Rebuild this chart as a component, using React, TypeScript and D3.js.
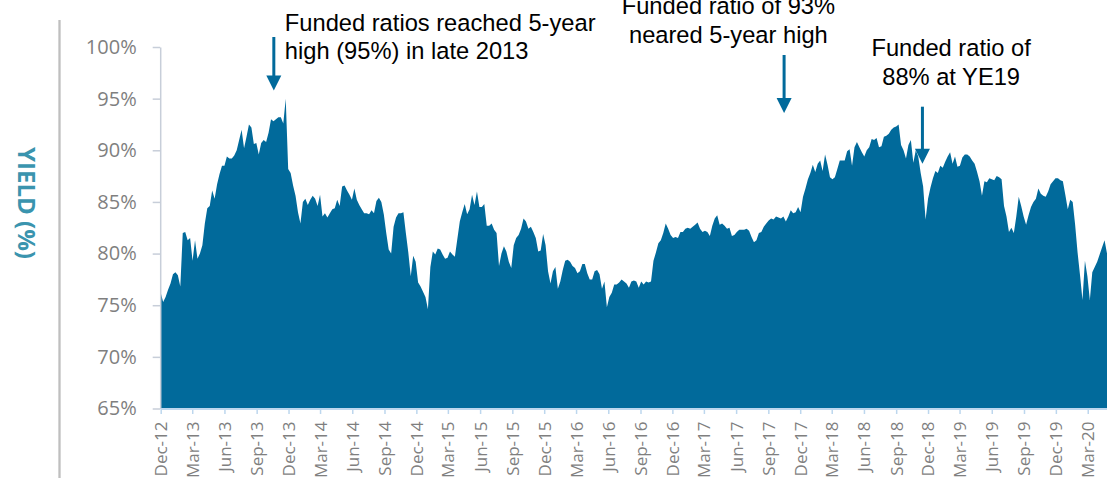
import React, { useEffect, useRef } from 'react';
import * as d3 from 'd3';

// weekly readings, the first one sits on the Dec-12 tick
const seriesStart = '2012-12-01';
const seriesEnd = '2020-04-25';
const stepDays = 7;

const fundedRatio = [
  76.2, 75.3, 75.8, 76.5, 77.1, 78.0, 78.2, 77.9, 76.8, 82.0,
  82.1, 81.3, 81.5, 79.3, 81.3, 79.5, 80.0, 80.8, 82.9, 84.4,
  84.6, 86.1, 85.3, 86.7, 87.7, 88.5, 88.5, 89.4, 89.2, 89.2,
  89.5, 90.0, 91.0, 92.0, 90.2, 91.3, 92.5, 92.2, 90.6, 90.7,
  89.6, 90.7, 91.0, 90.8, 91.7, 93.0, 92.8, 93.0, 93.2, 93.2,
  92.6, 95.0, 88.2, 87.8, 86.6, 85.6, 84.0, 82.9, 85.0, 85.3,
  84.7, 85.2, 85.6, 85.3, 84.6, 85.7, 83.6, 83.9, 83.5, 83.9,
  84.3, 84.4, 85.2, 84.6, 86.5, 86.6, 86.1, 85.7,
  85.2, 86.3, 85.2, 84.7, 84.3, 83.9, 83.9, 83.8, 84.2, 83.9,
  85.1, 85.4, 85.0, 83.8, 82.0, 80.4, 80.0, 82.6, 83.5, 83.9,
  83.9, 84.0, 82.0, 80.1, 77.8, 79.8, 79.2, 77.2, 76.8, 76.3,
  75.8, 74.6, 78.7, 80.2, 79.9, 80.5, 80.4, 79.9, 79.5, 79.6,
  80.2, 79.9, 79.7, 81.4, 83.1, 84.0, 84.8, 83.8, 84.3, 85.7,
  84.7, 86.0, 84.5, 84.5, 84.8, 82.7, 82.7, 82.9, 82.3, 82.0,
  78.8, 80.0, 80.7, 80.2, 79.2, 78.6, 80.8, 81.5, 81.8, 82.4,
  83.4, 83.1, 82.4, 82.6, 82.1, 81.5, 80.2,
  80.3, 81.9, 80.8, 78.3, 77.1, 78.3, 78.7, 76.6, 77.3, 78.4,
  79.3, 79.4, 79.2, 78.8, 78.6, 78.1, 78.3, 79.0, 79.0, 78.1,
  77.5, 77.5, 78.3, 78.4, 78.0, 76.6, 77.3, 74.8, 75.8, 76.2,
  77.0, 77.0, 77.2, 77.5, 77.3, 77.1, 76.7, 77.3, 77.4, 77.3,
  76.7, 77.3, 77.0, 77.3, 77.2, 77.3, 79.3, 80.1, 81.0, 81.3,
  82.0, 82.9, 82.4, 81.8, 81.5, 81.6, 81.5, 82.1, 82.1, 82.4,
  82.5, 82.4, 82.6, 82.8, 83.0, 82.4, 82.1, 82.2, 82.1, 81.7,
  82.7, 83.4, 83.7, 82.8, 82.9, 82.7, 82.4, 82.5,
  81.7, 81.8, 82.1, 82.3, 82.3, 82.3, 82.4, 82.2, 81.6, 81.1,
  81.3, 82.0, 82.1, 82.6, 82.9, 83.2, 83.4, 83.3, 83.6, 83.5,
  83.4, 83.6, 83.1, 83.6, 84.2, 83.9, 84.0, 84.5, 84.0, 85.5,
  86.3, 87.2, 87.8, 88.6, 87.9, 88.7, 89.0, 88.0, 89.6, 88.6,
  87.4, 87.2, 87.4, 88.2, 89.0, 89.0, 89.0, 89.9, 90.1, 88.5,
  90.3, 90.8, 90.3, 89.8, 89.4, 90.0, 90.3, 91.1, 91.0, 91.2,
  90.3, 90.4, 91.3, 91.4, 91.6, 92.0, 92.2, 92.3, 92.5, 90.5,
  90.0, 89.2, 90.5, 91.0, 88.8, 90.0, 89.4,
  87.8, 86.5, 83.3, 85.3, 86.4, 87.3, 88.0, 87.8, 88.5, 88.3,
  88.9, 89.4, 89.8, 88.7, 89.4, 88.4, 88.5, 89.3, 89.6, 89.6,
  89.4, 89.0, 88.7, 87.9, 87.0, 85.6, 87.0, 86.9, 87.3, 87.2,
  87.1, 87.5, 87.4, 87.2, 84.6, 83.6, 82.1, 82.5, 82.0, 83.6,
  85.5, 84.6, 83.6, 82.8, 83.7, 84.5, 85.0, 85.3, 86.3, 85.8,
  85.6, 85.5, 86.0, 86.7, 87.0, 87.3, 87.3, 87.1, 87.0, 85.7,
  84.3, 85.2, 85.0, 82.8, 80.1, 77.9, 75.5, 79.3, 77.8, 75.5,
  78.2, 78.7, 79.2, 79.9, 80.6, 81.3, 80.0,
];

const yTicks = [65, 70, 75, 80, 85, 90, 95, 100];
const xTickLabels = [
  'Dec-12', 'Mar-13', 'Jun-13', 'Sep-13', 'Dec-13', 'Mar-14', 'Jun-14', 'Sep-14',
  'Dec-14', 'Mar-15', 'Jun-15', 'Sep-15', 'Dec-15', 'Mar-16', 'Jun-16', 'Sep-16',
  'Dec-16', 'Mar-17', 'Jun-17', 'Sep-17', 'Dec-17', 'Mar-18', 'Jun-18', 'Sep-18',
  'Dec-18', 'Mar-19', 'Jun-19', 'Sep-19', 'Dec-19', 'Mar-20',
];
const yTitle = 'YIELD (%)';

const noteText = [
  ['Funded ratios reached 5-year', 'high (95%) in late 2013'],
  ['Funded ratio of 93%', 'neared 5-year high'],
  ['Funded ratio of', '88% at YE19'],
];
const noteDates = ['2013-10-20', '2017-10-16', '2018-11-15'];
const noteValues = [95.8, 93.6, 88.7];

const App = () => {
  const svgRef = useRef<SVGSVGElement>(null);
  const width = 1107;
  const height = 478;
  const fill = '#016a9b';

  useEffect(() => {
    const svg = d3.select(svgRef.current);
    svg.selectAll('*').remove();

    const parseDay = d3.timeParse('%Y-%m-%d');
    const parseTick = d3.timeParse('%b-%y');
    const start = parseDay(seriesStart) as Date;

    const x = d3.scaleTime().domain([start, parseDay(seriesEnd) as Date]).range([160.7, 1107]);
    const y = d3.scaleLinear().domain([65, 100]).range([408.5, 47]);

    const points = fundedRatio.map((v, i) => ({ date: d3.timeDay.offset(start, i * stepDays), value: v }));

    // left divider
    svg.append('line')
      .attr('x1', 59.5).attr('x2', 59.5)
      .attr('y1', 20).attr('y2', height)
      .attr('stroke', '#bfbfbf')
      .attr('stroke-width', 2.3);

    svg.append('text')
      .attr('transform', 'translate(26,203) rotate(90)')
      .attr('text-anchor', 'middle')
      .attr('dy', '0.35em')
      .attr('fill', '#3a94ae')
      .style('font', 'bold 24px "Open Sans", sans-serif')
      .text(yTitle);

    const area = d3.area<{ date: Date; value: number }>()
      .x(d => x(d.date))
      .y0(y(65))
      .y1(d => y(d.value));

    svg.append('path')
      .datum(points)
      .attr('fill', fill)
      .attr('d', area);

    const gy = svg.append('g')
      .attr('transform', 'translate(160.2,0)')
      .call(d3.axisLeft(y).tickValues(yTicks).tickSize(7.5).tickSizeOuter(0).tickPadding(16).tickFormat(d => `${d}%`));
    gy.select('.domain').attr('stroke', '#c7ced9').attr('stroke-width', 1.5);
    gy.selectAll('.tick line').attr('stroke', '#c7ced9').attr('stroke-width', 1.5);
    gy.selectAll('.tick text')
      .attr('fill', '#7f7f7f')
      .style('font', '20px "Open Sans", sans-serif');

    const tickDates = xTickLabels.map(l => parseTick(l) as Date);
    const gx = svg.append('g')
      .attr('transform', 'translate(0,408.5)')
      .call(d3.axisBottom(x).tickValues(tickDates).tickSize(5.5).tickSizeOuter(0).tickFormat(d3.timeFormat('%b-%y') as any));
    gx.select('.domain').attr('stroke', '#bdd7ee').attr('stroke-width', 2);
    gx.selectAll('.tick line').attr('stroke', '#bdd7ee').attr('stroke-width', 1.5);
    gx.selectAll('.tick text')
      .attr('transform', 'rotate(-90)')
      .attr('text-anchor', 'end')
      .attr('x', -13)
      .attr('y', 0)
      .attr('dy', '0.35em')
      .attr('fill', '#7f7f7f')
      .style('font', '17px "Open Sans", sans-serif');

    // callouts
    const layout = [
      { anchor: 'start', dx: 11, base: [30.5, 58.5], tail: 37 },
      { anchor: 'middle', dx: -55.7, base: [13.5, 42.5], tail: 55 },
      { anchor: 'middle', dx: 28.7, base: [56, 85], tail: 106.7 },
    ];
    const head = 15;
    noteText.forEach((lines, i) => {
      const ax = x(parseDay(noteDates[i]) as Date);
      const tip = y(noteValues[i]);
      const L = layout[i];
      const g = svg.append('g');
      g.append('line')
        .attr('x1', ax).attr('x2', ax)
        .attr('y1', L.tail).attr('y2', tip - head + 1)
        .attr('stroke', fill)
        .attr('stroke-width', 3);
      g.append('path')
        .attr('d', `M${ax - 7.5},${tip - head}L${ax + 7.5},${tip - head}L${ax},${tip}Z`)
        .attr('fill', fill);
      const t = g.append('text')
        .attr('text-anchor', L.anchor)
        .attr('fill', '#000')
        .style('font', '23.7px "Liberation Sans", Arial, sans-serif');
      lines.forEach((line, j) => {
        t.append('tspan').attr('x', ax + L.dx).attr('y', L.base[j]).text(line);
      });
    });
  }, []);

  return (
    <div style={{ position: 'absolute', left: 0, top: 0, width, height, background: '#fff' }}>
      <svg ref={svgRef} width={width} height={height} style={{ display: 'block' }}></svg>
    </div>
  );
};

export default App;
